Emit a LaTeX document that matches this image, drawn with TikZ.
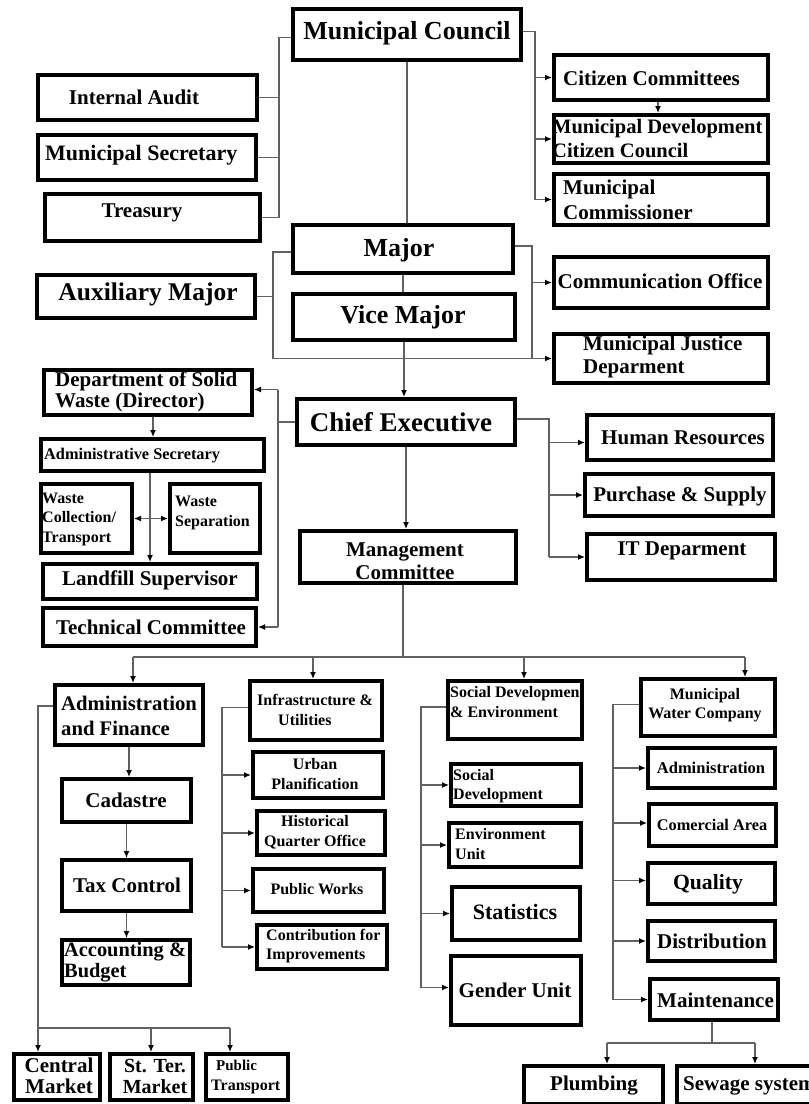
\documentclass[tikz,border=0pt]{standalone}
\usepackage{fontspec}
\setmainfont{Liberation Serif}
\usetikzlibrary{arrows.meta,calc}
\tikzset{
 box/.style={draw=black, line width=4pt, inner sep=0pt, fill=white},
 conn/.style={draw=black!62, line width=1.3pt},
 arr/.style={conn, -{Latex[length=7pt,width=6pt,color=black]}},
 dar/.style={conn, {Latex[length=7pt,width=6pt,color=black]}-{Latex[length=7pt,width=6pt,color=black]}},
 tx/.style={font=\bfseries\fontsize{21}{23}\selectfont, inner sep=0pt, align=left},
 ts/.style={font=\bfseries\fontsize{16}{19.5}\selectfont, inner sep=0pt, align=left},
 tb/.style={font=\bfseries\fontsize{26}{30}\selectfont, inner sep=0pt},
}
\newcommand{\bx}[5]{\node[box, minimum width={(#4)-(#2)-4}, minimum height={(#5)-(#3)-4}] (#1) at ({((#2)+(#4))/2},{((#3)+(#5))/2}) {};}
\begin{document}
\begin{tikzpicture}[x=1pt,y=-1pt]
\useasboundingbox (0,0) rectangle (809,1104);
\clip (0,0) rectangle (809,1104);
\fill[white] (0,0) rectangle (809,1104);
% ---------- boxes ----------
\bx{MC}{291}{7}{523}{62}
\bx{IA}{36}{73}{259}{122}
\bx{MS}{36}{133}{258}{182}
\bx{TR}{43}{192}{262}{243}
\bx{CC}{552}{53}{770}{102}
\bx{MDCC}{552}{113}{770}{165}
\bx{MCOM}{552}{172}{770}{227}
\bx{MAJ}{291}{223}{515}{275}
\bx{VM}{291}{292}{517}{342}
\bx{AUX}{35}{273}{257}{320}
\bx{COM}{552}{255}{770}{310}
\bx{MJD}{552}{332}{770}{385}
\bx{DSW}{42}{368}{254}{417}
\bx{CE}{295}{397}{517}{447}
\bx{AS}{39}{437}{266}{473}
\bx{WC}{39}{482}{134}{555}
\bx{WS}{168}{482}{262}{555}
\bx{LS}{41}{562}{259}{601}
\bx{TC}{41}{606}{258}{648}
\bx{MGC}{298}{529}{518}{585}
\bx{HR}{585}{413}{775}{462}
\bx{PS}{583}{472}{775}{518}
\bx{IT}{585}{532}{777}{582}
\bx{AF}{53}{683}{205}{747}
\bx{CAD}{60}{777}{193}{824}
\bx{TAX}{60}{858}{193}{913}
\bx{ACC}{60}{938}{192}{987}
\bx{IU}{248}{679}{384}{742}
\bx{UP}{251}{750}{385}{800}
\bx{HQ}{255}{809}{387}{857}
\bx{PW}{251}{867}{386}{914}
\bx{CI}{255}{923}{389}{971}
\bx{CM}{12}{1052}{102}{1102}
\bx{STM}{108}{1052}{195}{1102}
\bx{PT}{204}{1052}{290}{1102}
\bx{SDE}{446}{679}{584}{741}
\bx{SD}{449}{762}{583}{808}
\bx{EU}{447}{821}{583}{869}
\bx{ST}{450}{885}{582}{942}
\bx{GU}{449}{954}{583}{1027}
\bx{MWC}{639}{677}{777}{738}
\bx{ADM}{646}{746}{777}{790}
\bx{CA}{647}{802}{778}{848}
\bx{Q}{646}{861}{777}{906}
\bx{DI}{646}{919}{777}{963}
\bx{MA}{648}{977}{780}{1022}
\bx{PL}{522}{1064}{665}{1106}
\bx{SS}{675}{1064}{835}{1106}
% ---------- bus coordinates ----------
\coordinate (bL1) at (279,0);
\coordinate (bR1) at (535,0);
\coordinate (bL2) at (273,0);
\coordinate (bR2) at (532,0);
\coordinate (bL3) at (278,0);
\coordinate (bR3) at (549,0);
\coordinate (bL4) at (38,0);
\coordinate (bL5) at (222,0);
\coordinate (bL6) at (421,0);
\coordinate (bL7) at (613,0);
\coordinate (d1) at (133,657);
\coordinate (d2) at (313,657);
\coordinate (d3) at (524,657);
\coordinate (d4) at (745,657);
\coordinate (e1) at (38,1028);
\coordinate (e2) at (151,1028);
\coordinate (e3) at (230,1028);
\coordinate (f1) at (607,1043);
\coordinate (f2) at (755,1043);
% ---------- connectors ----------
% Municipal Council
\draw[conn] (MC.south) -- (MC.south |- MAJ.north);
\draw[conn] ([yshift=-3pt]MC.west) -- ([yshift=-3pt]MC.west -| bL1) -- (TR.east -| bL1) -- (TR.east);
\draw[conn] (IA.east) -- (IA.east -| bL1);
\draw[conn] (MS.east) -- (MS.east -| bL1);
\draw[conn] ([yshift=3pt]MC.east) -- ([yshift=3pt]MC.east -| bR1) -- (MCOM.west -| bR1);
\draw[arr] (MCOM.west -| bR1) -- (MCOM.west);
\draw[arr] (CC.west -| bR1) -- (CC.west);
\draw[arr] (MDCC.west -| bR1) -- (MDCC.west);
\draw[arr] ([xshift=-3pt]CC.south) -- ([xshift=-3pt]CC.south |- MDCC.north);
% Major
\draw[conn] (MAJ.south) -- (MAJ.south |- VM.north);
\draw[arr] (VM.south) -- (VM.south |- CE.north);
\draw[conn] ([yshift=-3pt]MAJ.west) -- ([yshift=-3pt]MAJ.west -| bL2) -- (bL2 |- MJD.west);
\draw[arr] (bL2 |- MJD.west) -- (MJD.west);
\draw[conn] (AUX.east) -- (AUX.east -| bL2);
\draw[conn] ([yshift=3pt]MAJ.east) -- ([yshift=3pt]MAJ.east -| bR2) -- (bR2 |- MJD.west);
\draw[arr] (COM.west -| bR2) -- (COM.west);
% Chief Executive
\draw[arr] (CE.south) -- (CE.south |- MGC.north);
\draw[conn] (CE.west) -- (CE.west -| bL3);
\draw[conn] ([yshift=3pt]DSW.east -| bL3) -- (TC.east -| bL3);
\draw[arr] ([yshift=3pt]DSW.east -| bL3) -- ([yshift=3pt]DSW.east);
\draw[arr] (TC.east -| bL3) -- (TC.east);
\draw[arr] ([xshift=5pt]DSW.south) -- ([xshift=5pt]DSW.south |- AS.north);
\draw[arr] (AS.south -| LS.north) -- (LS.north);
\draw[dar] (WC.east) -- (WS.west);
\draw[conn] ([yshift=3pt]CE.east) -- ([yshift=3pt]CE.east -| bR3) -- (bR3 |- IT.west);
\draw[arr] (bR3 |- IT.west) -- (IT.west);
\draw[arr] ([yshift=-5pt]HR.west -| bR3) -- ([yshift=-5pt]HR.west);
\draw[arr] (PS.west -| bR3) -- (PS.west);
% Management Committee bus
\draw[conn] ([xshift=-5pt]MGC.south) -- ([xshift=-5pt]MGC.south |- d1);
\draw[conn] (d1) -- (d4);
\draw[arr] (d1) -- (d1 |- AF.north);
\draw[arr] (d2) -- (d2 |- IU.north);
\draw[arr] (d3) -- (d3 |- SDE.north);
\draw[arr] (d4) -- (d4 |- MWC.north);
% Administration and Finance
\draw[arr] (AF.south) -- (AF.south |- CAD.north);
\draw[arr] (CAD.south) -- (CAD.south |- TAX.north);
\draw[arr] (TAX.south) -- (TAX.south |- ACC.north);
\draw[conn] ([yshift=9pt]AF.west) -- ([yshift=9pt]AF.west -| bL4) -- (e1) -- (e3);
\draw[arr] (e1) -- (e1 |- CM.north);
\draw[arr] (e2) -- (e2 |- STM.north);
\draw[arr] (e3) -- (e3 |- PT.north);
% Infrastructure
\draw[conn] ([yshift=3pt]IU.west) -- ([yshift=3pt]IU.west -| bL5) -- (CI.west -| bL5);
\draw[arr] (UP.west -| bL5) -- (UP.west);
\draw[arr] (HQ.west -| bL5) -- (HQ.west);
\draw[arr] (PW.west -| bL5) -- (PW.west);
\draw[arr] (CI.west -| bL5) -- (CI.west);
% Social Development
\draw[conn] ([yshift=3pt]SDE.west) -- ([yshift=3pt]SDE.west -| bL6) -- ([yshift=3pt]GU.west -| bL6);
\draw[arr] (SD.west -| bL6) -- (SD.west);
\draw[arr] (EU.west -| bL6) -- (EU.west);
\draw[arr] (ST.west -| bL6) -- (ST.west);
\draw[arr] ([yshift=3pt]GU.west -| bL6) -- ([yshift=3pt]GU.west);
% Water company
\draw[conn] ([yshift=3pt]MWC.west) -- ([yshift=3pt]MWC.west -| bL7) -- (MA.west -| bL7);
\draw[arr] (ADM.west -| bL7) -- (ADM.west);
\draw[arr] ([yshift=2pt]CA.west -| bL7) -- ([yshift=2pt]CA.west);
\draw[arr] ([yshift=3pt]Q.west -| bL7) -- ([yshift=3pt]Q.west);
\draw[arr] (DI.west -| bL7) -- (DI.west);
\draw[arr] (MA.west -| bL7) -- (MA.west);
\draw[conn] ([xshift=-2pt]MA.south) -- ([xshift=-2pt]MA.south |- f1);
\draw[conn] (f1) -- (f2);
\draw[arr] (f1) -- (f1 |- PL.north);
\draw[arr] (f2) -- (f2 |- SS.north);
% ---------- texts ----------
\node[tb] (tMC) at (407,33) {Municipal Council};
\node[tx] (tIA) at (134,97) {Internal Audit};
\node[tx, font=\bfseries\fontsize{22}{24}\selectfont, anchor=west] (tMS) at (45,155) {Municipal Secretary};
\node[tx] (tTR) at (142,213) {Treasury};
\node[tx, anchor=west] (tCC) at (563,78) {Citizen Committees};
\node[tx, font=\bfseries\fontsize{20.5}{24}\selectfont, anchor=west] (tMDCC) at (552,139) {Municipal Development\\Citizen Council};
\node[tx, font=\bfseries\fontsize{21}{25}\selectfont, anchor=west] (tMCOM) at (563,200) {Municipal\\Commissioner};
\node[tb] (tMAJ) at (399,250) {Major};
\node[tb] (tVM) at (403,317) {Vice Major};
\node[tb, font=\bfseries\fontsize{25.5}{30}\selectfont] (tAUX) at (148,294) {Auxiliary Major};
\node[tx] (tCOM) at (660,281) {Communication Office};
\node[tx, anchor=west] (tMJD) at (583,357) {Municipal Justice\\Deparment};
\node[tx, font=\bfseries\fontsize{21}{21.5}\selectfont, anchor=west] (tDSW) at (55,392) {Department of Solid\\Waste (Director)};
\node[tb, font=\bfseries\fontsize{27}{30}\selectfont] (tCE) at (401,422) {Chief Executive};
\node[ts, font=\bfseries\fontsize{16.3}{19}\selectfont, anchor=west] (tAS) at (44,456) {Administrative Secretary};
\node[ts, anchor=west] (tWC) at (42,519) {Waste\\Collection/\\Transport};
\node[ts, anchor=west] (tWS) at (175,513) {Waste\\Separation};
\node[tx] (tLS) at (150,580) {Landfill Supervisor};
\node[tx] (tTC) at (151,627) {Technical Committee};
\node[tx, align=center] (tMGC) at (405,561) {Management\\Committee};
\node[tx] (tHR) at (683,438) {Human Resources};
\node[tx] (tPS) at (680,496) {Purchase \& Supply};
\node[tx] (tIT) at (682,551) {IT Deparment};
\node[tx, font=\bfseries\fontsize{20.7}{25}\selectfont, anchor=west] (tAF) at (61,716) {Administration\\and Finance};
\node[tx] (tCAD) at (126,800) {Cadastre};
\node[tx] (tTAX) at (127,885) {Tax Control};
\node[tx, font=\bfseries\fontsize{20.4}{20.5}\selectfont, anchor=west] (tACC) at (64,962) {Accounting \&\\Budget};
\node[ts, anchor=west] (tIU) at (257,710) {Infrastructure \&\\\hspace*{21pt}Utilities};
\node[ts, align=center] (tUP) at (315,774) {Urban\\Planification};
\node[ts, align=center] (tHQ) at (315,832) {Historical\\Quarter Office};
\node[ts] (tPW) at (317,889) {Public Works};
\node[ts, anchor=west] (tCI) at (266,946) {Contribution for\\Improvements};
\node[tx, align=center, font=\bfseries\fontsize{21}{21}\selectfont] (tCM) at (59,1076) {Central\\Market};
\node[tx, align=center, font=\bfseries\fontsize{20}{21}\selectfont] (tSTM) at (155,1076) {St. Ter.\\Market};
\node[ts, anchor=west] (tPT) at (211,1077) {\hspace*{5pt}\fontsize{15}{19}\selectfont Public\\Transport};
\node[ts, anchor=west] (tSDE) at (450,702) {Social Developmen\\\& Environment};
\node[ts, align=center] (tMWC) at (705,705) {Municipal\\Water Company};
\node[ts, anchor=west] (tSD) at (453,786) {Social\\Development};
\node[ts, anchor=west] (tEU) at (455,844) {Environment\\Unit};
\node[tx, font=\bfseries\fontsize{22}{24}\selectfont] (tST) at (515,912) {Statistics};
\node[tx] (tGU) at (515,990) {Gender Unit};
\node[ts, font=\bfseries\fontsize{16.5}{19}\selectfont] (tADM) at (711,768) {Administration};
\node[ts, font=\bfseries\fontsize{16.3}{19}\selectfont] (tCA) at (712,825) {Comercial Area};
\node[tx, font=\bfseries\fontsize{21.7}{24}\selectfont] (tQ) at (708,884) {Quality};
\node[tx] (tDI) at (712,941) {Distribution};
\node[tx, anchor=west] (tMA) at (657,1000) {Maintenance};
\node[tx] (tPL) at (594,1086) {Plumbing};
\node[tx, anchor=west] (tSS) at (683,1086) {Sewage system};
\end{tikzpicture}
\end{document}
